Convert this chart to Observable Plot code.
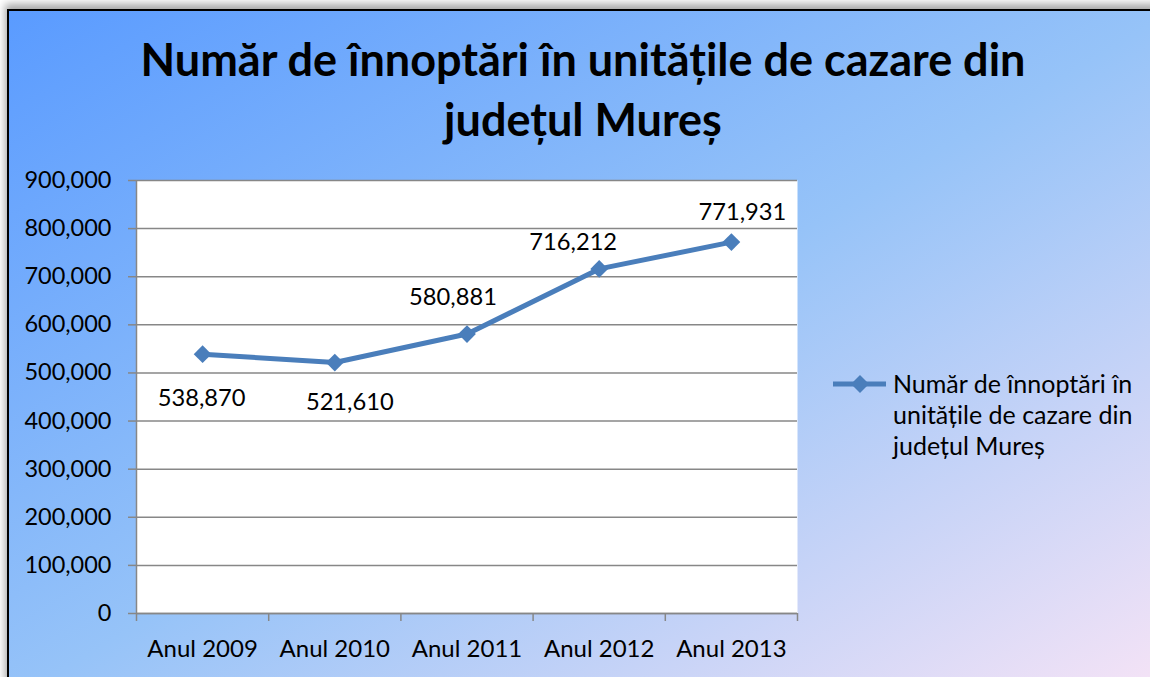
<!DOCTYPE html>
<html><head><meta charset="utf-8">
<script src="https://cdn.jsdelivr.net/npm/d3@7"></script>
<script src="https://cdn.jsdelivr.net/npm/@observablehq/plot@0.6"></script>
<style>
html,body{margin:0;padding:0;}
body{width:1150px;height:677px;overflow:hidden;background:#fff;position:relative;font-family:Lato,"Open Sans",sans-serif;}
#bg{position:absolute;left:7px;top:9px;width:1165px;height:690px;border-left:2px solid #000;border-top:2px solid #000;
  background:linear-gradient(to bottom right,#5a9bff 0%,#96c3f8 50%,#f8e4f6 100%);box-shadow:-2px -5px 8px rgba(0,0,0,0.35);}
#title{position:absolute;left:0;top:29px;width:1166px;text-align:center;font-weight:bold;font-size:45px;line-height:60px;color:#000;}
#plot{position:absolute;left:0;top:160px;}
#legend{position:absolute;left:830px;top:368px;}
#legend svg{position:absolute;left:0;top:0;}
#legend .txt{position:absolute;left:63px;top:0;font-size:25px;line-height:31px;color:#000;white-space:nowrap;}
</style></head>
<body>
<div id="bg"></div>
<div id="title">Număr de înnoptări în unitățile de cazare din<br>județul Mureș</div>
<div id="plot"></div>
<div id="legend">
  <svg width="62" height="32"><line x1="3" x2="56" y1="16" y2="16" stroke="#4a7ebb" stroke-width="5"/><path d="M30,7 L39,16 L30,25 L21,16 Z" fill="#4a7ebb"/></svg>
  <div class="txt">Număr de înnoptări în<br>unitățile de cazare din<br>județul Mureș</div>
</div>
<script>
const categories = ["Anul 2009", "Anul 2010", "Anul 2011", "Anul 2012", "Anul 2013"];
const values = [538870, 521610, 580881, 716212, 771931];
const yTicks = [0, 100000, 200000, 300000, 400000, 500000, 600000, 700000, 800000, 900000];
const seriesName = "Număr de înnoptări în unitățile de cazare din județul Mureș";

// label placement (layout only): offsets in px from each point
const labelOffsets = [[-1, 44], [15, 40], [-14, -37], [-26, -27], [11, -30]];

const data = categories.map((c, i) => ({i, category: c, value: values[i]}));
const boundaries = d3.range(categories.length + 1).map(k => k - 0.5);
const fmt = d3.format(",");
const blue = "#4a7ebb";
const gray = "#878787";

const labelMarks = data.map((d, k) => Plot.text([d], {
  x: "i", y: "value", text: d => fmt(d.value),
  dx: labelOffsets[k][0], dy: labelOffsets[k][1],
  fontSize: 23.7, fill: "#000"
}));

const chart = Plot.plot({
  width: 820, height: 517,
  marginLeft: 136, marginRight: 23, marginTop: 20, marginBottom: 64,
  style: {background: "transparent", fontFamily: "Lato, 'Open Sans', sans-serif", overflow: "visible"},
  x: {type: "linear", domain: [-0.5, categories.length - 0.5]},
  y: {domain: [0, 900000]},
  marks: [
    Plot.frame({fill: "white", stroke: null}),
    Plot.gridY(yTicks, {stroke: gray, strokeOpacity: 1, strokeWidth: 1.5}),
    Plot.axisY(yTicks, {tickSize: 8, tickPadding: 17, tickFormat: fmt, fontSize: 23.5, stroke: gray, strokeWidth: 1.5, fill: "#000", label: null}),
    Plot.axisX(boundaries, {tickSize: 8, tickFormat: () => "", stroke: gray, strokeWidth: 1.5, label: null}),
    Plot.axisX(d3.range(categories.length), {tickSize: 0, tickPadding: 26, tickFormat: i => categories[i], fontSize: 24, fill: "#000", label: null}),
    Plot.ruleX([-0.5], {stroke: gray, strokeWidth: 1.5}),
    Plot.ruleY([0], {stroke: gray, strokeWidth: 1.5}),
    Plot.line(data, {x: "i", y: "value", stroke: blue, strokeWidth: 5}),
    Plot.dot(data, {x: "i", y: "value", symbol: "diamond2", r: 8, fill: blue, stroke: null}),
    ...labelMarks
  ]
});
document.getElementById("plot").appendChild(chart);
</script>
</body></html>
